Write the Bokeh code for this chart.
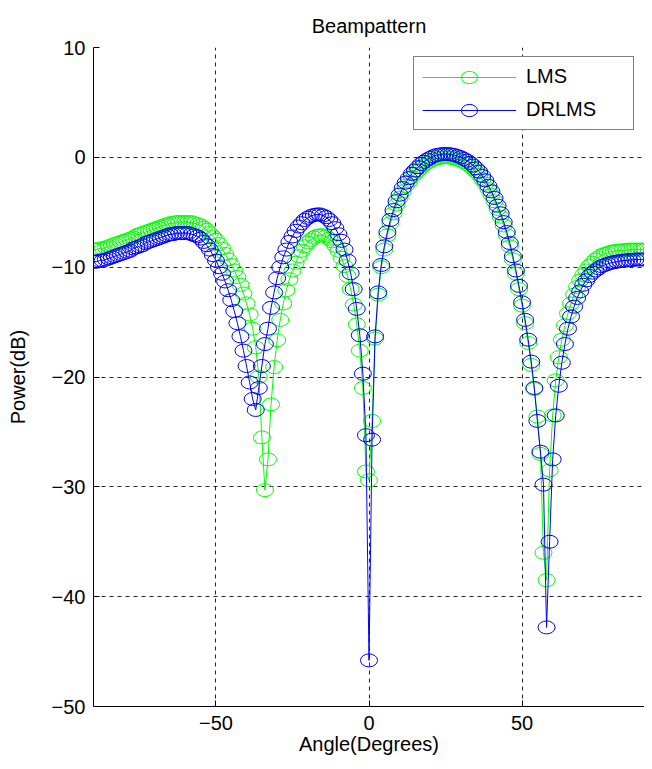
from bokeh.plotting import figure
from bokeh.models import Range1d, FixedTicker, Legend, LegendItem
from bokeh.embed import file_html
from bokeh.resources import INLINE

# ---- data ----
angles = list(range(-90, 91))

lms_db = [
    -8.4, -8.4, -8.3, -8.3, -8.2, -8.1, -8.0, -7.9, -7.8, -7.7,        # -90..-81
    -7.6, -7.5, -7.4, -7.3, -7.1, -7.0, -6.9, -6.8, -6.7, -6.6,        # -80..-71
    -6.5, -6.4, -6.3, -6.2, -6.1, -6.0, -6.0, -5.9, -5.9, -5.9,        # -70..-61
    -5.9, -5.9, -5.9, -6.0, -6.1, -6.2, -6.4, -6.6, -6.9, -7.2,        # -60..-51
    -7.5, -7.9, -8.3, -8.8, -9.3, -9.8, -10.3, -10.9, -11.6, -12.4,    # -50..-41
    -13.3, -14.3, -15.6, -17.3, -20.0, -25.5, -30.3, -27.5, -22.5, -19.1,  # -40..-31
    -16.65, -14.8, -13.3, -12.1, -11.1, -10.3, -9.6, -9.0, -8.5, -8.1,  # -30..-21
    -7.75, -7.5, -7.3, -7.15, -7.1, -7.1, -7.2, -7.4, -7.65, -8.05,    # -20..-11
    -8.5, -9.15, -9.9, -10.8, -12.0, -13.4, -15.2, -17.6, -21.0, -28.6,  # -10..-1
    -29.4, -24.0, -16.5, -12.5, -10.0, -8.4, -7.1, -6.0, -5.1, -4.3,   # 0..9
    -3.7, -3.1, -2.6, -2.2, -1.8, -1.5, -1.2, -0.9, -0.7, -0.5,        # 10..19
    -0.35, -0.2, -0.1, -0.05, 0.0, 0.0, 0.0, -0.05, -0.1, -0.2,        # 20..29
    -0.3, -0.45, -0.6, -0.8, -1.05, -1.3, -1.6, -2.0, -2.4, -2.9,      # 30..39
    -3.4, -4.0, -4.7, -5.4, -6.2, -7.1, -8.1, -9.3, -10.6, -12.0,      # 40..49
    -13.5, -15.1, -16.9, -18.9, -21.1, -23.6, -27.0, -36.0, -38.5, -28.5,  # 50..59
    -23.5, -20.3, -18.2, -16.6, -15.3, -14.2, -13.3, -12.5, -11.8, -11.2,  # 60..69
    -10.7, -10.3, -9.9, -9.6, -9.3, -9.1, -8.9, -8.8, -8.7, -8.6,      # 70..79
    -8.55, -8.5, -8.5, -8.45, -8.45, -8.4, -8.4, -8.4, -8.4, -8.4,     # 80..89
    -8.4,                                                              # 90
]

drlms_db = [
    -9.5, -9.5, -9.4, -9.4, -9.3, -9.2, -9.1, -9.0, -8.9, -8.8,        # -90..-81
    -8.7, -8.6, -8.5, -8.3, -8.2, -8.1, -8.0, -7.8, -7.7, -7.6,        # -80..-71
    -7.5, -7.4, -7.3, -7.2, -7.1, -7.0, -7.0, -6.9, -6.9, -6.9,        # -70..-61
    -6.9, -6.9, -7.0, -7.1, -7.2, -7.4, -7.7, -8.0, -8.4, -8.9,        # -60..-51
    -9.4, -10.0, -10.6, -11.3, -12.1, -13.0, -14.0, -15.1, -16.3, -17.6,  # -50..-41
    -19.0, -20.5, -22.0, -23.0, -21.0, -19.0, -17.0, -15.6, -13.7, -12.3,  # -40..-31
    -11.0, -10.0, -9.1, -8.4, -7.7, -7.2, -6.7, -6.3, -6.0, -5.7,      # -30..-21
    -5.5, -5.35, -5.25, -5.2, -5.2, -5.3, -5.45, -5.7, -6.0, -6.45,    # -20..-11
    -7.0, -7.6, -8.4, -9.4, -10.55, -12.0, -13.8, -16.2, -19.7, -25.3,  # -10..-1
    -45.8, -25.7, -16.3, -12.3, -9.8, -8.1, -6.8, -5.7, -4.8, -4.0,    # 0..9
    -3.4, -2.8, -2.3, -1.9, -1.5, -1.2, -0.9, -0.6, -0.4, -0.2,        # 10..19
    -0.05, 0.1, 0.2, 0.25, 0.3, 0.3, 0.3, 0.25, 0.2, 0.1,              # 20..29
    0.0, -0.15, -0.3, -0.5, -0.75, -1.0, -1.3, -1.7, -2.1, -2.6,       # 30..39
    -3.1, -3.7, -4.4, -5.1, -5.9, -6.8, -7.8, -9.0, -10.3, -11.7,      # 40..49
    -13.2, -14.8, -16.6, -18.6, -21.0, -24.0, -26.8, -29.8, -42.8, -35.0,  # 50..59
    -27.5, -23.5, -20.8, -18.7, -17.0, -15.6, -14.5, -13.6, -12.8, -12.2,  # 60..69
    -11.6, -11.2, -10.8, -10.5, -10.3, -10.1, -9.9, -9.8, -9.7, -9.6,  # 70..79
    -9.55, -9.5, -9.45, -9.4, -9.4, -9.35, -9.35, -9.3, -9.3, -9.3,    # 80..89
    -9.3,                                                              # 90
]

series_names = ["LMS", "DRLMS"]
x_ticks = [-50, 0, 50]
y_ticks = [-50, -40, -30, -20, -10, 0, 10]

FONT = "Liberation Sans"

p = figure(width=644, height=761, output_backend="svg", toolbar_location=None,
           x_range=Range1d(-90, 90), y_range=Range1d(-50, 10),
           min_border_left=93, min_border_right=0, min_border_top=47, min_border_bottom=55,
           title="Beampattern", x_axis_label="Angle(Degrees)", y_axis_label="Power(dB)")

p.outline_line_color = None
p.background_fill_color = "white"
p.border_fill_color = "white"

p.title.text_font = FONT
p.title.text_font_size = "20px"
p.title.text_font_style = "normal"
p.title.text_color = "black"
p.title.align = "center"
p.title.standoff = 22

for ax in (p.xaxis, p.yaxis):
    ax.axis_label_text_font = FONT
    ax.axis_label_text_font_size = "20px"
    ax.axis_label_text_font_style = "normal"
    ax.axis_label_text_color = "black"
    ax.major_label_text_font = FONT
    ax.major_label_text_font_size = "20px"
    ax.major_label_text_color = "black"
    ax.axis_line_color = "black"
    ax.major_tick_line_color = "black"
    ax.major_tick_in = 6
    ax.major_tick_out = 0
    ax.minor_tick_line_color = None

p.xaxis.ticker = FixedTicker(ticks=x_ticks)
p.yaxis.ticker = FixedTicker(ticks=y_ticks)
p.xaxis.major_label_standoff = 9
p.xaxis.axis_label_standoff = 0
p.yaxis.major_label_standoff = 8
p.yaxis.axis_label_standoff = 20

p.xgrid.ticker = FixedTicker(ticks=x_ticks)
p.ygrid.ticker = FixedTicker(ticks=y_ticks)
p.grid.grid_line_color = "black"
p.grid.grid_line_alpha = 0.85
p.grid.grid_line_dash = "4 4"
p.grid.grid_line_width = 1

colors = ["#00ff00", "#0000ff"]
items = []
for name, vals, col in zip(series_names, [lms_db, drlms_db], colors):
    ln = p.line(angles, vals, line_color=col, line_width=1)
    mk = p.ellipse(x=angles, y=vals, width=17, height=13,
                   width_units="screen", height_units="screen",
                   fill_color=None, line_color=col, line_width=1)
    items.append(LegendItem(label=name, renderers=[ln, mk]))

legend = Legend(items=items, location=(320, 576))
legend.label_text_font = FONT
legend.label_text_font_size = "20px"
legend.label_text_color = "black"
legend.glyph_width = 94
legend.glyph_height = 20
legend.label_height = 20
legend.label_width = 99
legend.label_standoff = 10
legend.spacing = 10
legend.padding = 8
legend.margin = 0
legend.border_line_color = "black"
legend.border_line_width = 1
legend.background_fill_color = "white"
legend.background_fill_alpha = 1.0
p.add_layout(legend, "center")

open("out.html", "w").write(file_html(p, INLINE))
